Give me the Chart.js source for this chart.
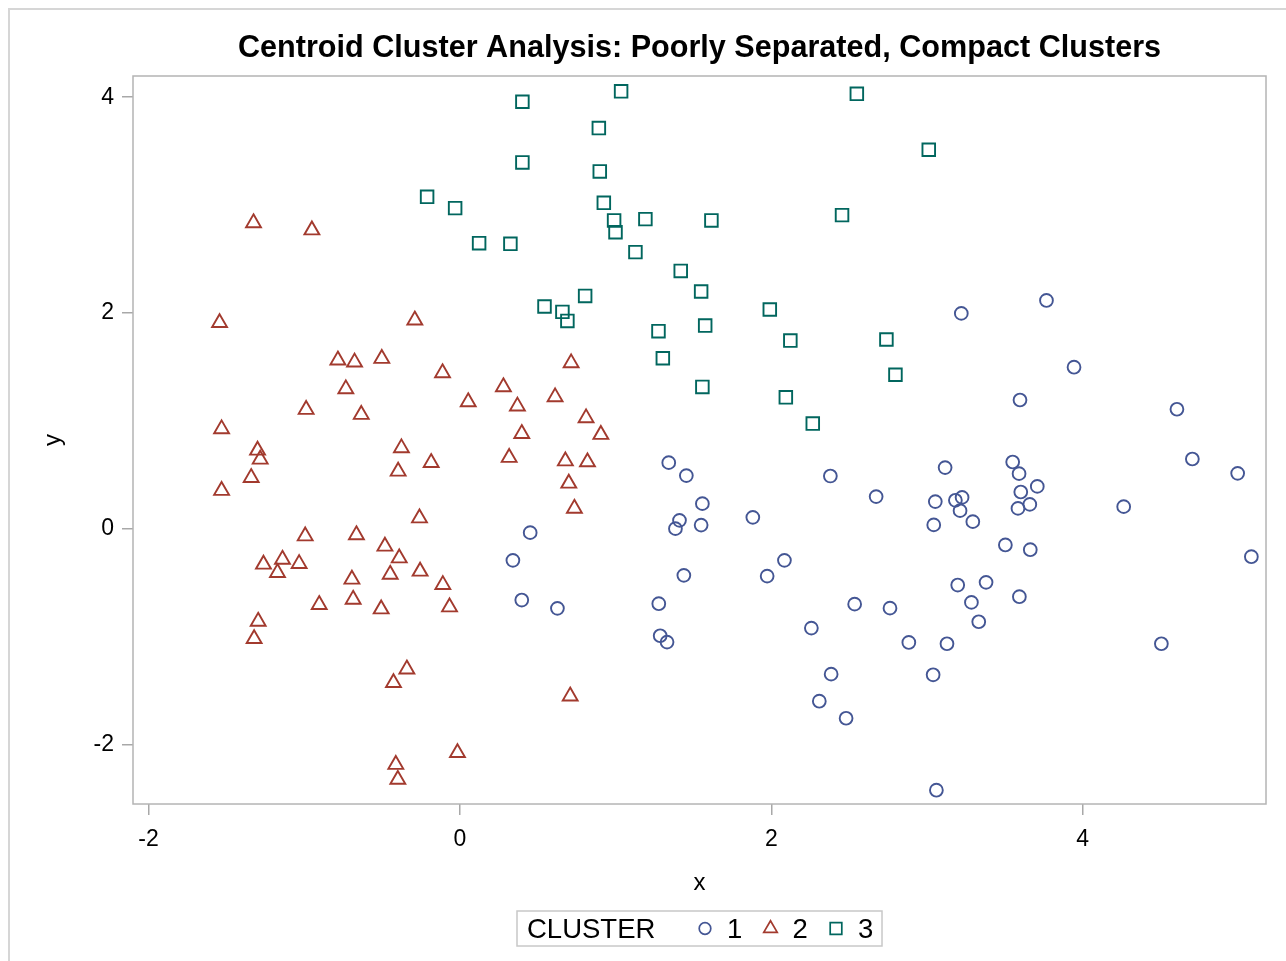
<!DOCTYPE html>
<html>
<head>
<meta charset="utf-8">
<title>Centroid Cluster Analysis</title>
<script src="https://cdn.jsdelivr.net/npm/chart.js@4.4.1/dist/chart.umd.min.js"></script>
<style>
  html, body { margin: 0; padding: 0; background: #fff; }
  #wrap { position: relative; width: 1286px; height: 961px; }
  #frame { position: absolute; left: 8px; top: 8px; right: 0; bottom: 0;
           border-top: 2px solid #d6d6d6; border-left: 2px solid #d6d6d6; }
  #chart { position: absolute; left: 0; top: 0; }
</style>
</head>
<body>
<div id="wrap">
  <div id="frame"></div>
  <canvas id="chart" width="1286" height="961"></canvas>
</div>
<script>
const cluster1X = [3.22, 3.767, 3.944, 3.597, 4.605, 4.704, 4.995, 3.116, 3.55, 3.591,
  3.708, 2.673, 3.053, 3.182, 3.225, 3.212, 3.602, 3.66, 3.584, 4.263,
  3.043, 3.294, 3.503, 3.663, 5.083, 3.197, 3.379, 3.593, 3.285, 2.535,
  2.762, 3.332, 2.883, 3.128, 4.505, 3.039, 2.48, 3.06, 0.451, 0.34,
  0.397, 0.626, 1.384, 1.41, 1.549, 1.881, 1.438, 1.277, 1.973, 2.084,
  2.257, 1.286, 1.33, 2.384, 2.308, 1.341, 1.454, 2.379, 1.557];
const cluster1Y = [1.996, 2.116, 1.497, 1.193, 1.107, 0.646, 0.513, 0.566, 0.618, 0.51,
  0.392, 0.297, 0.251, 0.263, 0.29, 0.167, 0.34, 0.225, 0.188, 0.204,
  0.035, 0.065, -0.151, -0.195, -0.26, -0.523, -0.498, -0.631, -0.684, -0.7,
  -0.737, -0.863, -1.055, -1.067, -1.067, -1.355, -1.758, -2.425, -0.037, -0.294,
  -0.662, -0.739, 0, 0.077, 0.033, 0.105, -0.433, -0.696, -0.44, -0.294,
  -0.922, -0.993, -1.052, -1.349, -1.6, 0.612, 0.492, 0.488, 0.232];

const cluster2X = [-1.326, -0.951, -1.544, -0.29, -0.784, -0.677, -0.502, -0.112, -0.733, 0.279,
  0.053, -0.988, -0.634, -1.531, -1.3, -1.283, -0.376, -0.185, -0.397, -1.341,
  -1.531, -0.26, -0.994, -0.665, -0.482, 0.369, 0.611, 0.714, 0.81, 0.905,
  0.397, 0.316, 0.677, 0.819, 0.699, 0.735, -1.262, -1.14, -1.172, -1.033,
  -0.39, -0.694, -0.448, -0.256, -0.11, -0.904, -0.686, -0.506, -0.067, -1.296,
  -1.322, -0.341, -0.427, -0.412, -0.399, -0.016, 0.708];
const cluster2Y = [2.835, 2.768, 1.909, 1.933, 1.562, 1.543, 1.577, 1.444, 1.295, 1.314,
  1.175, 1.104, 1.058, 0.924, 0.726, 0.643, 0.748, 0.612, 0.532, 0.473,
  0.353, 0.098, -0.069, -0.058, -0.164, 1.135, 1.221, 1.536, 1.026, 0.872,
  0.881, 0.659, 0.627, 0.618, 0.42, 0.188, -0.331, -0.285, -0.408, -0.325,
  -0.273, -0.47, -0.424, -0.396, -0.52, -0.705, -0.656, -0.746, -0.727, -0.86,
  -1.021, -1.303, -1.429, -2.187, -2.326, -2.078, -1.553];

const cluster3X = [0.401, 1.035, 2.549, 0.892, 0.401, 0.898, 3.011, -0.031, -0.211, 0.924,
  0.99, 1.191, 1.615, 2.454, 0.999, 0.123, 0.324, 1.127, 1.418, 1.549,
  1.99, 0.804, 0.543, 0.658, 0.69, 1.275, 1.575, 2.122, 2.739, 1.303,
  2.797, 1.557, 2.093, 2.266];
const cluster3Y = [3.958, 4.055, 4.032, 3.714, 3.396, 3.312, 3.513, 2.972, 3.077, 3.021,
  2.858, 2.87, 2.858, 2.907, 2.749, 2.647, 2.641, 2.564, 2.39, 2.199,
  2.032, 2.158, 2.06, 2.01, 1.926, 1.831, 1.883, 1.744, 1.754, 1.58,
  1.427, 1.314, 1.218, 0.974];

const clusterNames = ['1', '2', '3'];
const xTicks = [-2, 0, 2, 4];
const yTicks = [-2, 0, 2, 4];

const titolo = 'Centroid Cluster Analysis: Poorly Separated, Compact Clusters';
const legendTitle = 'CLUSTER';
const FONT = '"Liberation Sans", Arial, sans-serif';

function punti(xs, ys) {
    return xs.map((x, i) => ({ x: x, y: ys[i] }));
}

// stile dei marker per ciascun cluster
const markerStyles = [
    { color: '#445694', style: 'circle', radius: 6.4 },
    { color: '#A23A2E', style: 'triangle', radius: 8.6 },
    { color: '#01665E', style: 'rect', radius: 8.9 }
];

const series = [punti(cluster1X, cluster1Y), punti(cluster2X, cluster2Y), punti(cluster3X, cluster3Y)];

const datasets = series.map((d, i) => ({
    label: clusterNames[i],
    data: d,
    pointStyle: markerStyles[i].style,
    pointRadius: markerStyles[i].radius,
    pointBorderWidth: 1.9,
    pointBorderColor: markerStyles[i].color,
    pointBackgroundColor: 'rgba(0,0,0,0)',
    showLine: false
}));

// disegna il marker a mano (per la legenda)
function drawMarker(ctx, style, x, y, r) {
    ctx.beginPath();
    if (style === 'circle') {
        ctx.arc(x, y, r, 0, Math.PI * 2);
    } else if (style === 'triangle') {
        ctx.moveTo(x, y - r);
        ctx.lineTo(x + r * Math.sin(Math.PI / 3), y + r / 2);
        ctx.lineTo(x - r * Math.sin(Math.PI / 3), y + r / 2);
        ctx.closePath();
    } else {
        const s = r * Math.SQRT1_2;
        ctx.rect(x - s, y - s, 2 * s, 2 * s);
    }
    ctx.stroke();
}

// titolo, cornice e legenda
const decorPlugin = {
    id: 'decor',
    afterDraw(chart) {
        const ctx = chart.ctx;
        const a = chart.chartArea;
        const cx = (a.left + a.right) / 2;
        ctx.save();

        // cornice dell'area del grafico
        ctx.strokeStyle = '#b4b4b4';
        ctx.lineWidth = 1.5;
        ctx.strokeRect(a.left, a.top, a.right - a.left, a.bottom - a.top);

        // titolo
        ctx.fillStyle = '#000';
        ctx.font = 'bold 30.6px ' + FONT;
        ctx.textAlign = 'center';
        ctx.textBaseline = 'middle';
        ctx.fillText(titolo, cx, 48.5);

        // legenda
        const w = 365, h = 35;
        const lx = cx - w / 2, ly = 911;
        ctx.strokeStyle = '#c8c8c8';
        ctx.lineWidth = 1.5;
        ctx.strokeRect(lx, ly, w, h);
        const my = ly + h / 2;
        ctx.font = '27.5px ' + FONT;
        ctx.textAlign = 'left';
        ctx.fillText(legendTitle, lx + 10, my + 1.5);
        chart.data.datasets.forEach((ds, i) => {
            const mx = lx + 188 + i * 65.5;
            ctx.strokeStyle = markerStyles[i].color;
            ctx.lineWidth = 1.7;
            drawMarker(ctx, markerStyles[i].style, mx, my, markerStyles[i].style === 'circle' ? 5.8 : (markerStyles[i].style === 'rect' ? 8.2 : 7.8));
            ctx.fillStyle = '#000';
            ctx.fillText(ds.label, mx + 22, my + 1.5);
        });
        ctx.restore();
    }
};

const tickGrid = {
    display: true,
    drawOnChartArea: false,
    drawTicks: true,
    tickLength: 11,
    color: '#a8a8a8',
    lineWidth: 1.5
};

new Chart(document.getElementById('chart'), {
    type: 'scatter',
    data: { datasets: datasets },
    options: {
        responsive: false,
        devicePixelRatio: 1,
        animation: false,
        events: [],
        layout: { padding: { top: 76, right: 20, left: 0, bottom: 0 } },
        plugins: {
            legend: { display: false },
            title: { display: false },
            tooltip: { enabled: false }
        },
        scales: {
            x: {
                type: 'linear',
                min: -2.1,
                max: 5.177,
                afterBuildTicks: s => { s.ticks = xTicks.map(v => ({ value: v })); },
                afterFit: s => { s.height = 157; },
                grid: tickGrid,
                border: { display: false },
                ticks: { color: '#000', font: { family: FONT, size: 23 }, padding: 11, maxRotation: 0 },
                title: { display: true, text: 'x', color: '#000', font: { family: FONT, size: 24 }, padding: { top: 0, bottom: 63 } }
            },
            y: {
                type: 'linear',
                min: -2.553,
                max: 4.197,
                afterBuildTicks: s => { s.ticks = yTicks.map(v => ({ value: v })); },
                afterFit: s => { s.width = 133; },
                grid: tickGrid,
                border: { display: false },
                ticks: { color: '#000', font: { family: FONT, size: 23 }, padding: 8 },
                title: { display: true, text: 'y', color: '#000', font: { family: FONT, size: 24 }, padding: { top: 39, bottom: 0 } }
            }
        }
    },
    plugins: [decorPlugin]
});
</script>
</body>
</html>
